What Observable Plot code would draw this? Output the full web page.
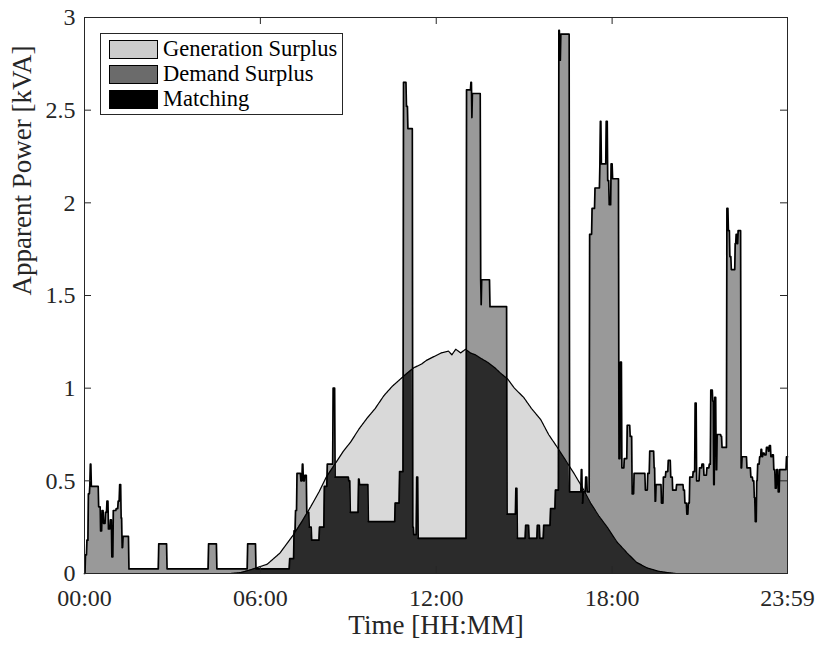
<!DOCTYPE html>
<html><head><meta charset="utf-8">
<script src="https://cdn.jsdelivr.net/npm/d3@7"></script>
<script src="https://cdn.jsdelivr.net/npm/@observablehq/plot@0.6"></script>
<style>
body{margin:0;background:#fff;}
#wrap{position:relative;width:816px;height:646px;}
#legend{position:absolute;left:100px;top:33px;width:243px;height:82px;border:1px solid #262626;background:#fff;box-sizing:border-box;font-family:"Liberation Serif","Times New Roman",serif;font-size:22.5px;color:#000;}
.row{position:absolute;left:8px;height:20px;display:flex;align-items:center;white-space:nowrap;}
.sw{width:47px;height:17px;border:1.5px solid #000;margin-right:5px;}
</style></head>
<body>
<div id="wrap"><div id="chart"></div><div id="legend"></div></div>
<script>
// ---- data (minutes after midnight, kVA) ----
const xTicks = [0, 360, 720, 1080, 1439];
const xTickLabels = ["00:00", "06:00", "12:00", "18:00", "23:59"];
const yTicks = [0, 0.5, 1, 1.5, 2, 2.5, 3];
const yTickLabels = ["0", "0.5", "1", "1.5", "2", "2.5", "3"];
const xLabel = "Time [HH:MM]";
const yLabel = "Apparent Power [kVA]";
const seriesNames = ["Generation Surplus", "Demand Surplus", "Matching"];
const legendColors = ["#cccccc", "#6b6b6b", "#000000"];
const fillColors = ["#d9d9d9", "#999999", "#2b2b2b"];

// demand: [minute, kVA], value holds until next entry
const demand = [
[0,0.0],[2,0.10],[5,0.18],[8,0.43],[11,0.48],[12,0.59],[14,0.47],[27,0.47],[29,0.36],[33,0.23],[36,0.34],[39,0.27],[43,0.33],[46,0.39],[49,0.24],[53,0.29],[56,0.09],[59,0.34],[65,0.35],[69,0.39],[72,0.48],[75,0.30],[77,0.14],[79,0.20],[91,0.025],
[152,0.16],[169,0.025],[254,0.16],[271,0.025],[334,0.16],[351,0.025],
[420,0.08],[429,0.23],[432,0.34],[435,0.54],[443,0.50],[446,0.59],[448,0.50],[451,0.53],[455,0.33],[460,0.25],[465,0.18],[481,0.25],[491,0.47],[497,0.59],[509,1.0],[513,0.52],[541,0.50],[544,0.33],[561,0.51],[563,0.48],[581,0.28],[636,0.38],[645,0.55],[653,2.65],[659,2.52],[662,2.40],[672,0.25],[674,0.21],[680,0.52],[683,0.19],
[782,2.61],[791,2.65],[793,2.46],[794,2.59],[811,1.585],[812,1.45],[813,1.585],[830,1.44],[865,0.32],[883,0.46],[886,0.19],[903,0.26],[910,0.19],[927,0.26],[932,0.19],[940,0.26],[954,0.35],[964,0.45],[971,2.93],[973,2.77],[975,2.91],[993,0.44],[1017,0.56],[1019,0.38],[1021,0.44],[1026,0.52],[1029,0.44],
[1034,1.83],[1039,1.97],[1045,2.08],[1055,2.21],[1056,2.44],[1058,2.21],[1068,2.44],[1071,2.12],[1074,1.99],[1078,2.21],[1081,2.13],[1094,0.62],[1097,1.14],[1100,0.57],[1105,0.62],[1111,0.80],[1117,0.74],[1121,0.43],[1125,0.54],[1144,0.54],[1148,0.45],[1153,0.54],[1157,0.66],[1166,0.57],[1168,0.39],[1170,0.48],[1181,0.38],[1185,0.52],[1190,0.55],[1195,0.61],[1200,0.52],[1204,0.45],[1212,0.48],[1222,0.48],[1226,0.45],[1229,0.38],[1233,0.32],[1236,0.38],[1239,0.52],[1246,0.55],[1250,0.92],[1253,0.50],[1259,0.57],[1264,0.59],[1268,0.53],[1274,0.57],[1279,0.59],[1282,0.99],[1286,0.93],[1288,0.48],[1290,0.95],[1293,0.56],[1295,0.75],[1303,0.74],[1305,0.68],[1314,0.68],[1315,1.97],[1318,1.85],[1321,1.71],[1324,1.64],[1330,1.64],[1332,1.78],[1334,1.83],[1336,1.78],[1338,1.85],[1343,1.85],[1344,0.57],[1346,0.63],[1354,0.63],[1356,0.57],[1362,0.57],[1364,0.52],[1368,0.50],[1371,0.41],[1373,0.28],[1376,0.50],[1378,0.59],[1382,0.63],[1385,0.67],[1387,0.63],[1389,0.65],[1392,0.64],[1396,0.68],[1400,0.66],[1402,0.69],[1405,0.63],[1408,0.64],[1411,0.56],[1414,0.46],[1417,0.56],[1420,0.44],[1423,0.56],[1434,0.56],[1437,0.63]
];

// generation (PV): [minute, kVA]
const generation = [
[0,0],[300,0],[320,0.005],[340,0.02],[374,0.05],[400,0.11],[428,0.21],[445,0.28],[463,0.36],[480,0.44],[495,0.52],[510,0.58],[530,0.66],[545,0.71],[562,0.78],[579,0.84],[595,0.89],[613,0.96],[630,1.01],[647,1.05],[660,1.08],[674,1.11],[690,1.13],[700,1.15],[715,1.17],[730,1.19],[745,1.20],[752,1.18],[760,1.21],[770,1.19],[780,1.21],[790,1.19],[800,1.18],[812,1.16],[825,1.14],[840,1.11],[852,1.08],[866,1.05],[880,1.00],[899,0.95],[915,0.89],[934,0.83],[950,0.75],[968,0.68],[985,0.61],[1002,0.54],[1020,0.46],[1036,0.38],[1053,0.31],[1070,0.25],[1090,0.17],[1111,0.11],[1130,0.06],[1152,0.03],[1175,0.012],[1193,0.005],[1210,0],[1439,0]
];

// ---- drawing helpers: evaluate both series on a per-minute grid ----
function stepAt(s, t){ let v = s[0][1]; for (const [tt, vv] of s){ if (tt <= t) v = vv; else break; } return v; }
function linAt(s, t){
  for (let i = 1; i < s.length; i++){
    if (t <= s[i][0]){ const [t0,v0] = s[i-1], [t1,v1] = s[i]; return v0 + (v1 - v0) * (t - t0) / (t1 - t0); }
  }
  return s[s.length-1][1];
}
const rows = d3.range(0, 1440).map(t => { const d = stepAt(demand, t), g = linAt(generation, t); return {t, d, g, m: Math.min(d, g)}; });

const W = 816, H = 646, mL = 84, mR = 29, mT = 17, mB = 73;
const kvaPerPx = 3 / (H - mT - mB), minPerPx = 1439 / (W - mL - mR), tickLen = 7;
const axisColor = "#262626";

const chart = Plot.plot({
  width: W, height: H, marginLeft: mL, marginRight: mR, marginTop: mT, marginBottom: mB,
  style: {fontFamily: '"Liberation Serif", "Times New Roman", serif', fontSize: "24px", color: axisColor, background: "white"},
  x: {domain: [0, 1439]},
  y: {domain: [0, 3]},
  marks: [
    Plot.areaY(rows, {x: "t", y1: 0, y2: "d", fill: fillColors[1]}),
    Plot.areaY(rows, {x: "t", y1: 0, y2: "g", fill: fillColors[0]}),
    Plot.areaY(rows, {x: "t", y1: 0, y2: "m", fill: fillColors[2]}),
    Plot.lineY(rows, {x: "t", y: "g", stroke: "#000", strokeWidth: 1.2}),
    Plot.lineY(rows, {x: "t", y: "d", stroke: "#000", strokeWidth: 1.7}),
    Plot.frame({stroke: axisColor, strokeWidth: 1}),
    Plot.ruleX(xTicks, {x: d => d, y1: 0, y2: tickLen * kvaPerPx, stroke: axisColor}),
    Plot.ruleX(xTicks, {x: d => d, y1: 3, y2: 3 - tickLen * kvaPerPx, stroke: axisColor}),
    Plot.ruleY(yTicks, {y: d => d, x1: 0, x2: tickLen * minPerPx, stroke: axisColor}),
    Plot.ruleY(yTicks, {y: d => d, x1: 1439, x2: 1439 - tickLen * minPerPx, stroke: axisColor}),
    Plot.axisX(xTicks, {tickSize: 0, tickPadding: 15, tickFormat: d => xTickLabels[xTicks.indexOf(d)], label: null}),
    Plot.axisY(yTicks, {tickSize: 0, tickPadding: 9, tickFormat: d => yTickLabels[yTicks.indexOf(d)], label: null}),
    Plot.text([xLabel], {frameAnchor: "bottom", dy: 60, fontSize: 27, fill: axisColor}),
    Plot.text([yLabel], {frameAnchor: "left", dx: -62, rotate: -90, fontSize: 27, fill: axisColor})
  ]
});
document.getElementById("chart").appendChild(chart);

// legend inside the axes (HTML overlay)
const lg = document.getElementById("legend");
seriesNames.forEach((name, i) => {
  const row = document.createElement("div");
  row.className = "row";
  row.style.top = (5 + i * 25) + "px";
  const sw = document.createElement("div");
  sw.className = "sw";
  sw.style.background = legendColors[i];
  const tx = document.createElement("span");
  tx.textContent = name;
  row.appendChild(sw); row.appendChild(tx);
  lg.appendChild(row);
});
</script>
</body></html>
